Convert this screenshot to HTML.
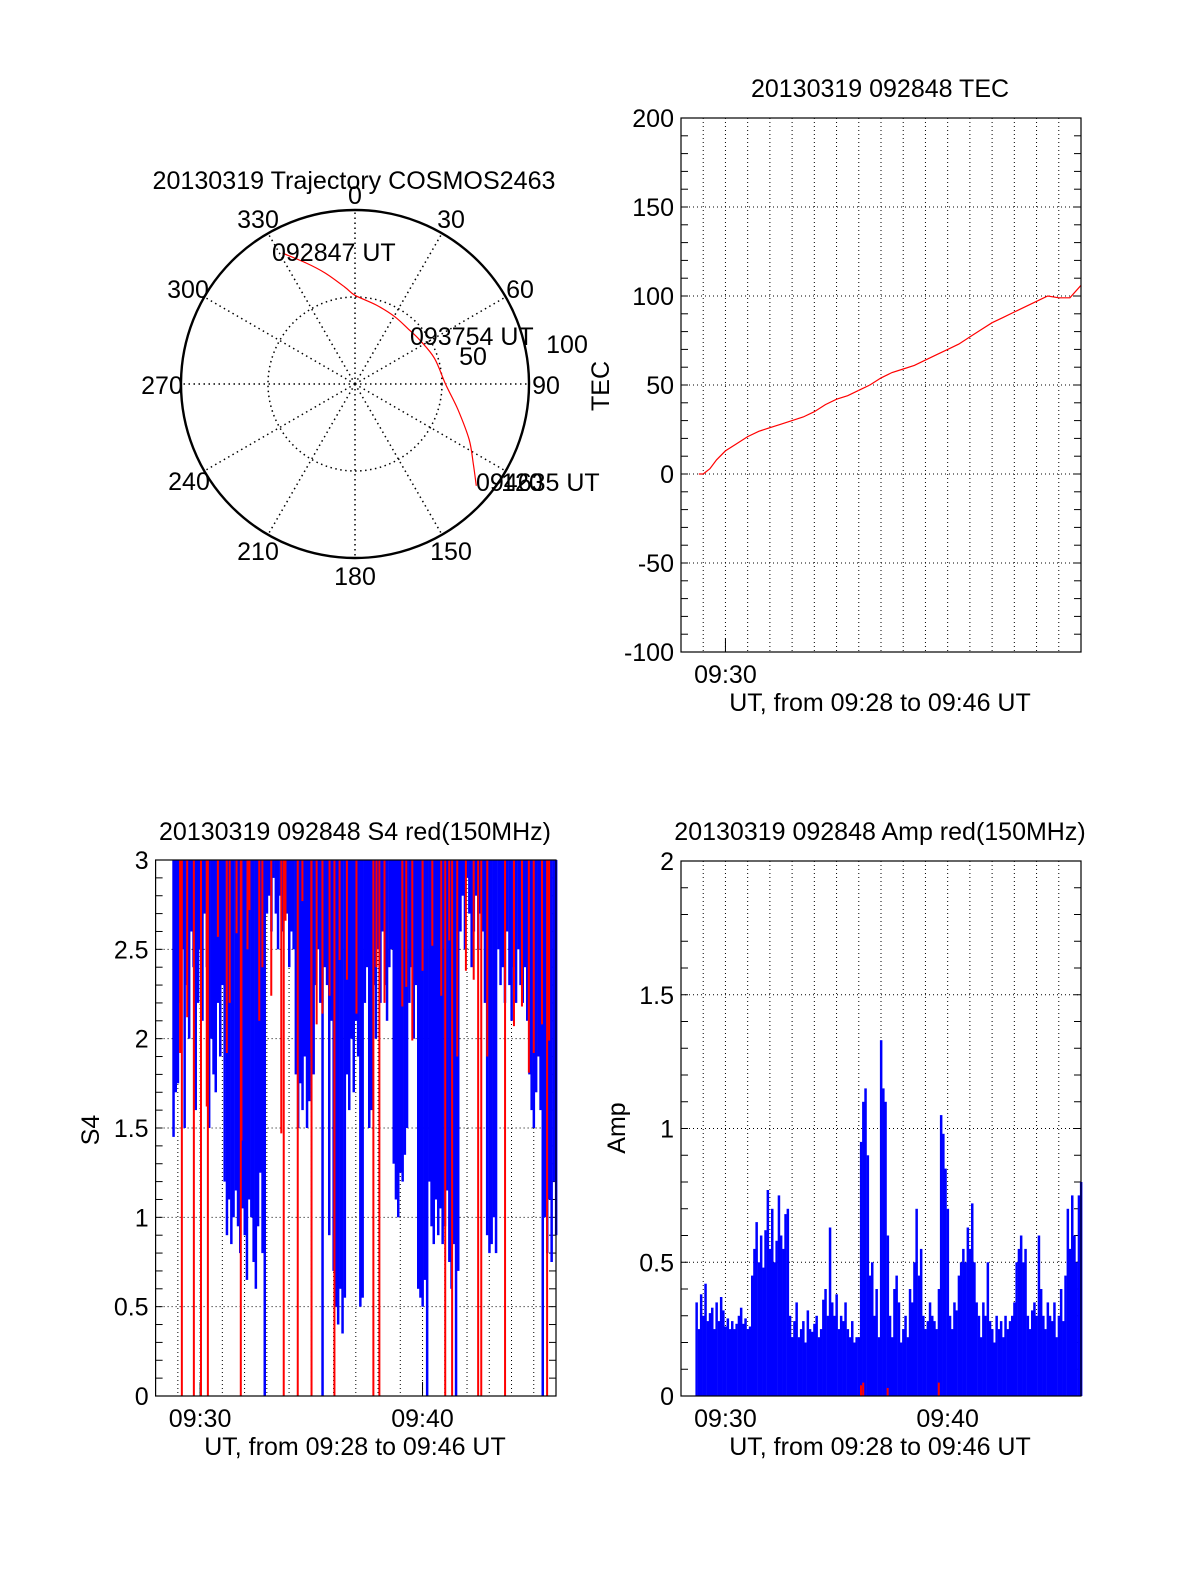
<!DOCTYPE html>
<html><head><meta charset="utf-8"><style>
body{margin:0;background:#fff}
svg{display:block;font-family:"Liberation Sans",Arial,sans-serif}
</style></head><body>
<svg id="s" width="1200" height="1575" viewBox="0 0 1200 1575" xmlns="http://www.w3.org/2000/svg">
<rect width="1200" height="1575" fill="#fff"/>
</svg>
<script>
// ---------- data ----------
const trajAz=[331,338,345,354,0,15,30,44,56,72,90,104,116,124,130];
const trajR=[86,75,66,56,51,47,45,44,45,48,52,61,73,82,91];
const tecT=[0.8,1.0,1.3,1.6,2,2.5,3,3.5,4,4.5,5,5.5,6,6.5,7,7.5,8,8.5,9,9.5,10,10.5,11,11.5,12,12.5,13,13.5,14,14.5,15,15.5,16,16.5,17,17.5,18];
const tecV=[0,0,3,8,13,17,21,24,26,28,30,32,35,39,42,44,47,50,54,57,59,61,64,67,70,73,77,81,85,88,91,94,97,100,99,99,106];
const s4Start=0.8, s4Step=0.1;
const s4Blue=[1.45,1.7,1.75,
2.2,2.5,1.5,2.3,2.0,2.6,2.4,1.6,2.2,
2.5,2.1,2.7,2.4,1.5,2.0,1.8,1.7,2.2,1.9,
2.3,1.2,0.9,1.1,0.85,1.0,1.15,0.95,0.8,1.05,0.9,0.65,1.1,1.0,0.75,0.6,0.95,1.25,0.8,0,
2.7,2.8,2.6,2.9,2.7,2.5,2.8,2.6,2.9,2.7,2.4,2.6,2.5,
1.8,1.5,1.75,1.6,1.9,1.5,1.65,2.0,1.8,
2.3,2.5,2.2,0,2.4,2.3,0.9,2.1,
0.7,0.5,0.4,0.6,0.35,0.55,
1.8,1.6,2.0,1.7,2.1,1.9,
0.5,0.55,
2.2,2.4,1.5,1.6,2.3,2.0,2.5,2.2,2.6,2.3,2.1,2.4,2.5,
1.3,1.1,1.0,1.25,1.2,1.35,1.5,
2.2,2.4,2.0,2.3,
0.6,0.55,0.5,0.65,0,
1.2,0.95,0.85,1.1,0.9,1.05,0.85,0.95,1.15,
0.75,0.6,0.85,0,0.7,
2.6,2.8,2.5,2.9,2.7,2.4,2.6,2.8,2.5,2.7,2.6,2.2,
0.9,0.8,0.85,1.0,0.8,
2.5,2.3,2.4,2.2,2.6,2.3,2.1,2.4,2.2,2.5,2.3,2.2,2.4,2.1,
1.8,1.6,1.5,1.7,1.9,1.6,
0,1.0,0.8,1.1,0.75,1.2,0.9];
const s4RedT=[1.18,1.72,2.04,2.35,3.83,5.76,6.39,7.01,8.04,9.79,10.06,13.02,13.33,14.5,14.64,15.71,17.6,
1.1,1.42,2.3,2.8,3.2,3.33,3.64,3.86,4.13,4.22,4.66,4.8,5.2,5.65,5.84,6.6,7.0,7.24,7.5,7.82,8.27,8.6,9.03,9.93,10.29,11.09,11.27,11.54,12.0,12.44,12.84,13.2,13.56,13.95,14.3,14.91,16.11,16.47,16.78,17.0,17.37,17.69];
const s4RedV=[0,0,0,0,0,0,0,0,0,0,0,0,0,0,0,0,0,
1.92,2.12,1.62,2.57,1.92,2.2,2.59,1.43,2.5,2.72,2.1,2.4,2.24,1.47,2.66,2.77,1.92,2.08,2.14,2.24,2.44,2.33,2.14,2.4,2.2,2.18,2.29,1.99,2.38,2.52,2.24,2.55,1.9,2.38,2.33,1.9,2.07,2.18,1.81,1.92,2.08,1.99,2.4];
const ampStart=0.7, ampStep=0.1;
const ampBlue=[0.35,0.25,0.38,0.3,0.42,0.28,0.31,0.33,0.25,0.35,0.28,0.37,0.32,0.26,0.29,0.25,0.28,0.25,0.27,0.3,0.33,0.27,0.29,0.25,0.26,
0.45,0.55,0.65,0.5,0.6,0.48,0.62,0.77,0.55,0.7,0.5,0.58,0.75,0.6,0.55,0.68,
0.7,0.3,0.22,0.28,0.35,0.22,0.25,0.28,0.2,0.32,0.25,0.24,0.27,0.3,0.22,0.25,0.36,0.4,0.3,0.63,0.35,0.3,0.38,0.25,0.3,0.28,0.35,0.25,0.22,0.28,0.2,0.22,0.22,
0.95,1.1,1.15,0.9,
0.45,0.5,0.3,0.4,0.22,
1.33,1.15,1.1,0.6,
0.3,0.22,0.4,0.45,0.35,0.2,0.25,0.3,0.22,0.4,0.35,0.5,0.7,0.45,0.55,0.3,0.25,0.28,0.35,0.3,0.28,0.25,0.4,
1.05,0.98,0.85,0.7,
0.3,0.25,0.35,0.32,0.45,0.5,0.55,0.5,0.63,0.55,0.72,0.5,0.35,
0.3,0.22,0.35,0.3,0.5,0.28,0.25,0.2,0.3,0.25,0.28,0.22,0.3,0.25,0.28,0.3,0.35,
0.5,0.55,0.6,0.5,0.55,0.3,0.25,0.32,
0.35,0.3,0.6,0.4,0.3,0.25,0.35,0.3,0.28,0.35,0.22,0.3,0.4,
0.28,0.45,0.7,0.55,0.75,0.6,0.5,0.75,0.8];
const ampRedT=[8.1,8.2,9.3,11.6];
const ampRedV=[0.04,0.05,0.03,0.05];

// ---------- helpers ----------
const S=document.getElementById('s');const NS='http://www.w3.org/2000/svg';
const FS=25;
function mk(tag,a,parent){const e=document.createElementNS(NS,tag);for(const k in a)e.setAttribute(k,a[k]);(parent||S).appendChild(e);return e;}
function txt(x,y,s,anchor,name,extra){const e=mk('text',Object.assign({x:x,y:y,'font-size':FS,'text-anchor':anchor||'middle',fill:'#000'},extra||{}));e.textContent=s;


return e;}

function panel(o){
  const g=mk('g',{});
  
  
  const xs=t=>o.x0+(t/18)*(o.x1-o.x0);
  const ys=v=>o.y1-(v-o.vmin)/(o.vmax-o.vmin)*(o.y1-o.y0);
  for(let m=1;m<18;m++){const l=mk('line',{x1:xs(m),x2:xs(m),y1:o.y0,y2:o.y1,stroke:'#000','stroke-width':1,'stroke-dasharray':'1,3'},g);
    }
  for(let v=o.vmin;v<=o.vmax+1e-9;v+=o.major){const y=ys(v);
    if(v>o.vmin&&v<o.vmax){const l=mk('line',{x1:o.x0,x2:o.x1,y1:y,y2:y,stroke:'#000','stroke-width':1,'stroke-dasharray':'1,3'},g);
      }
    txt(o.x0-7,y+9,o.fmt(v),'end','y-tick-label');}
  for(let v=o.vmin;v<=o.vmax+1e-9;v+=o.minor){const y=ys(v);
    mk('line',{x1:o.x0,x2:o.x0+7,y1:y,y2:y,stroke:'#000'},g);mk('line',{x1:o.x1,x2:o.x1-7,y1:y,y2:y,stroke:'#000'},g);}
  o.ticks.forEach(m=>{mk('line',{x1:xs(m),x2:xs(m),y1:o.y1,y2:o.y1-14,stroke:'#000'},g);
    txt(xs(m),o.y1+31,o.tl(m),'middle','x-tick-label');});
  return {g,xs,ys};
}
function frame(o){const r=mk('rect',{x:o.x0,y:o.y0,width:o.x1-o.x0,height:o.y1-o.y0,fill:'none',stroke:'#000','stroke-width':1.2});
 }
const tl=m=>'09:'+(28+m);

// ---------- polar ----------
const cx=355,cy=384,R=174;
const pg=mk('g',{});


mk('circle',{cx:cx,cy:cy,r:R/2,fill:'none',stroke:'#000','stroke-dasharray':'1.5,3.5','stroke-width':1.5},pg);
for(let a=0;a<360;a+=30){const rad=a*Math.PI/180;
  const l=mk('line',{x1:cx,y1:cy,x2:cx+R*Math.sin(rad),y2:cy-R*Math.cos(rad),stroke:'#000','stroke-dasharray':'1.5,3.5','stroke-width':1.5},pg);
  }
mk('circle',{cx:cx,cy:cy,r:R,fill:'none',stroke:'#000','stroke-width':2.4},pg);
const pr=(az,r)=>[cx+r/100*R*Math.sin(az*Math.PI/180),cy-r/100*R*Math.cos(az*Math.PI/180)];
const pts=trajAz.map((a,i)=>pr(a,trajR[i]));
let pd='M'+pts[0][0].toFixed(1)+','+pts[0][1].toFixed(1);
for(let i=0;i<pts.length-1;i++){const p0=pts[Math.max(0,i-1)],p1=pts[i],p2=pts[i+1],p3=pts[Math.min(pts.length-1,i+2)];
  const c1=[p1[0]+(p2[0]-p0[0])/6,p1[1]+(p2[1]-p0[1])/6],c2=[p2[0]-(p3[0]-p1[0])/6,p2[1]-(p3[1]-p1[1])/6];
  pd+='C'+c1[0].toFixed(1)+','+c1[1].toFixed(1)+' '+c2[0].toFixed(1)+','+c2[1].toFixed(1)+' '+p2[0].toFixed(1)+','+p2[1].toFixed(1);}
const tp=mk('path',{d:pd,fill:'none',stroke:'#f00','stroke-width':1.2},pg);

const azL=[[0,355,204],[30,451,228],[60,520,298],[90,546,394],[120,522,491],[150,451,560],[180,355,585],[210,258,560],[240,189,490],[270,162,394],[300,188,298],[330,258,228]];
azL.forEach(l=>txt(l[1],l[2],String(l[0]),'middle','azimuth-label'));
txt(567,353,'100','middle','radius-label');txt(473,365,'50','middle','radius-label');
txt(272,261,'092847 UT','start','start-time-label');
txt(410,345,'093754 UT','start','mid-time-label');
txt(476,491,'094635 UT','start','end-time-label');
txt(354,189,'20130319 Trajectory COSMOS2463','middle','polar-title',{textLength:403,lengthAdjust:'spacingAndGlyphs'});

// ---------- TEC ----------
const tecO={x0:681,x1:1081,y0:118,y1:652,vmin:-100,vmax:200,major:50,minor:10,name:'tec-plot',fmt:v=>String(Math.round(v)),ticks:[2],tl:tl};
const P1=panel(tecO);
let td='';tecT.forEach((t,i)=>{td+=(i?'L':'M')+P1.xs(t).toFixed(1)+','+P1.ys(tecV[i]).toFixed(1);});
const tl1=mk('path',{d:td,fill:'none',stroke:'#f00','stroke-width':1.2});

frame(tecO);
txt(880,97,'20130319 092848 TEC','middle','tec-title');
txt(880,711,'UT, from 09:28 to 09:46 UT','middle','tec-x-title');
txt(609,386,'TEC','middle','tec-y-title',{transform:'rotate(-90 609 386)'});

// ---------- S4 ----------
const s4O={x0:155.6,x1:556,y0:860,y1:1396,vmin:0,vmax:3,major:0.5,minor:0.1,name:'s4-plot',fmt:v=>(Math.round(v*10)/10).toString(),ticks:[2,12],tl:tl};
const P2=panel(s4O);
s4Blue.forEach((v,i)=>{const t=s4Start+i*s4Step;const x=P2.xs(t);const w=P2.xs(s4Step)-P2.xs(0);
  const r=mk('rect',{x:(x-w/2).toFixed(1),y:P2.ys(3),width:(w+0.3).toFixed(1),height:(P2.ys(v)-P2.ys(3)).toFixed(1),fill:'#00f'});
  
  });
s4RedT.forEach((t,i)=>{const x=P2.xs(t);
  const l=mk('line',{x1:x,x2:x,y1:P2.ys(3),y2:P2.ys(s4RedV[i]),stroke:'#f00','stroke-width':2});
  
  });
frame(s4O);
txt(355,840,'20130319 092848 S4 red(150MHz)','middle','s4-title');
txt(355,1455,'UT, from 09:28 to 09:46 UT','middle','s4-x-title');
txt(99,1130,'S4','middle','s4-y-title',{transform:'rotate(-90 99 1130)'});

// ---------- Amp ----------
const ampO={x0:681,x1:1081,y0:861,y1:1396,vmin:0,vmax:2,major:0.5,minor:0.1,name:'amp-plot',fmt:v=>(Math.round(v*10)/10).toString(),ticks:[2,12],tl:tl};
const P3=panel(ampO);
ampBlue.forEach((v,i)=>{const t=ampStart+i*ampStep;const x=P3.xs(t);const w=P3.xs(ampStep)-P3.xs(0);
  const r=mk('rect',{x:(x-w/2).toFixed(1),y:P3.ys(v).toFixed(1),width:(w+0.3).toFixed(1),height:(P3.ys(0)-P3.ys(v)).toFixed(1),fill:'#00f'});
  
  });
ampRedT.forEach((t,i)=>{const x=P3.xs(t);
  const l=mk('line',{x1:x,x2:x,y1:P3.ys(0),y2:P3.ys(ampRedV[i]),stroke:'#f00','stroke-width':2});
  
  });
frame(ampO);
txt(880,840,'20130319 092848 Amp red(150MHz)','middle','amp-title');
txt(880,1455,'UT, from 09:28 to 09:46 UT','middle','amp-x-title');
txt(625,1128,'Amp','middle','amp-y-title',{transform:'rotate(-90 625 1128)'});
</script>
</body></html>
